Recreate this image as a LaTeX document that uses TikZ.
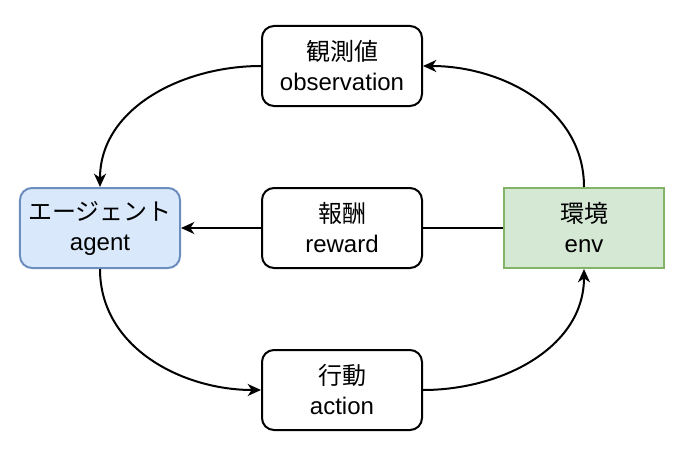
\documentclass[tikz,border=0pt]{standalone}
\usepackage{fontspec}
\setmainfont{Liberation Sans}
\newfontfamily\jp{Noto Sans CJK JP}
\usetikzlibrary{arrows.meta,positioning}

\definecolor{agentfill}{HTML}{DAE8FC}
\definecolor{agentdraw}{HTML}{6C8EBF}
\definecolor{envfill}{HTML}{D5E8D4}
\definecolor{envdraw}{HTML}{82B366}

\begin{document}
\begin{tikzpicture}[->,>={Stealth[length=10pt,width=9pt,inset=3pt]},line width=1.5pt,
    node distance=60pt,
    box/.style={draw,rounded corners=9pt,minimum width=120pt,minimum height=60pt,
      inner sep=0pt,align=center,font=\fontsize{18pt}{22.5pt}\selectfont}]

  \useasboundingbox (-75pt,-174.75pt) rectangle (436.5pt,171pt);

  \node[box,fill=agentfill,draw=agentdraw] (agent)        {{\jp エージェント}\\agent};
  \node[box] (reward) [right=of agent]                     {{\jp 報酬}\\reward};
  \node[box,rounded corners=0pt,fill=envfill,draw=envdraw] (env) [right=of reward] {{\jp 環境}\\env};
  \node[box] (obs)    [above=of reward]                    {{\jp 観測値}\\observation};
  \node[box] (action) [below=of reward]                    {{\jp 行動}\\action};

  % loop of the agent and env
  \draw (obs.west) to[out=180,in=90] (agent.north);
  \draw (env.north) to[out=90,in=0] (obs.east);
  \draw[-] (env.west) -- (reward.east);
  \draw (reward.west) -- (agent.east);
  \draw (agent.south) to[out=-90,in=180] (action.west);
  \draw (action.east) to[out=0,in=-90] (env.south);
\end{tikzpicture}
\end{document}
